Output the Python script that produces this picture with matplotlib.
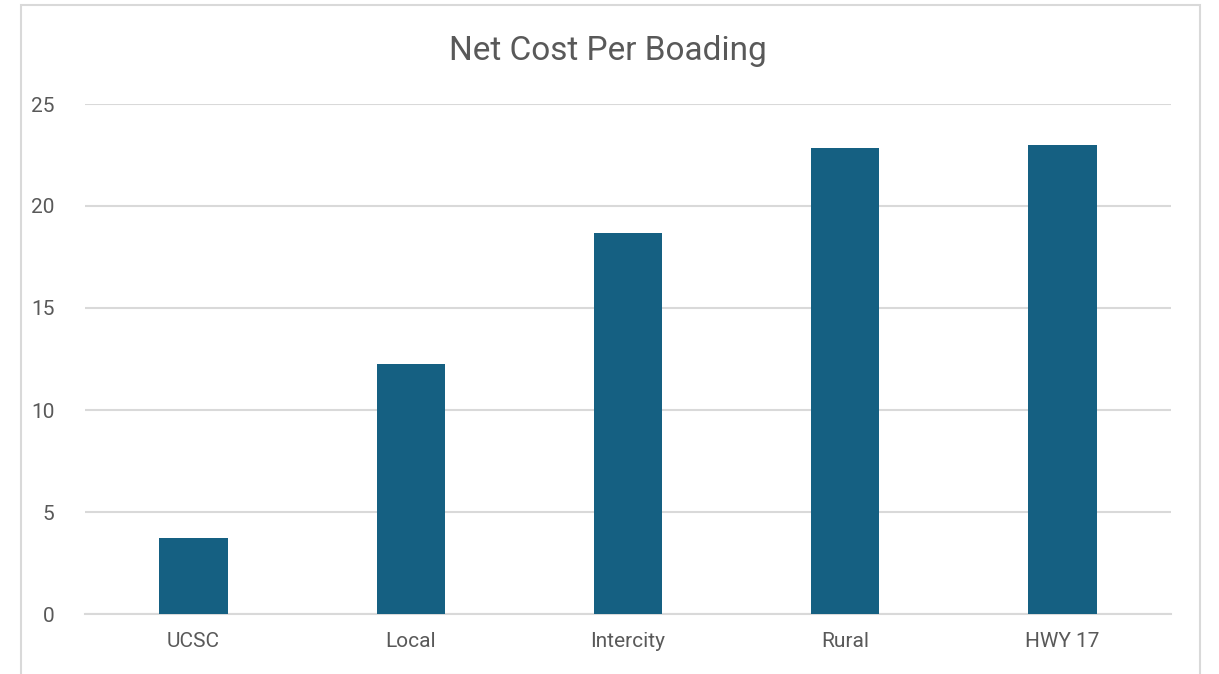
import matplotlib
matplotlib.use("Agg")
import matplotlib.pyplot as plt
from matplotlib.patches import Rectangle

categories = ["UCSC", "Local", "Intercity", "Rural", "HWY 17"]
net_cost = [3.71, 12.25, 18.67, 22.83, 23.0]
y_ticks = [0, 5, 10, 15, 20, 25]

BAR = "#156082"
GRID = "#D9D9D9"
TEXT = "#595959"

plt.rcParams["font.family"] = ["Roboto", "DejaVu Sans"]

W, H = 1219, 674
fig = plt.figure(figsize=(W / 100, H / 100), dpi=100)
fig.patch.set_facecolor("white")

# chart frame (runs off the bottom edge)
fig.add_artist(Rectangle((21 / W, -0.05), (1200 - 21) / W, 1.05 - 5 / H,
                         transform=fig.transFigure, fill=False,
                         edgecolor=GRID, linewidth=1.5))

ax = fig.add_axes([85 / W, 1 - 614 / H, (1171 - 85) / W, (614 - 104) / H])
x = range(len(categories))
ax.bar(x, net_cost, width=0.315, color=BAR, zorder=3)

ax.set_xlim(-0.5, len(categories) - 0.5)
ax.set_ylim(0, 25)
ax.set_yticks(y_ticks)
ax.set_xticks(list(x))
ax.set_xticklabels(categories)
ax.grid(axis="y", color=GRID, linewidth=1.5, zorder=0)
for s in ["top", "right", "left"]:
    ax.spines[s].set_visible(False)
ax.spines["bottom"].set_color(GRID)
ax.spines["bottom"].set_linewidth(1.5)
ax.tick_params(axis="both", length=0, colors=TEXT, labelsize=15)
ax.tick_params(axis="y", pad=22)
ax.tick_params(axis="x", pad=13)
for lbl in ax.get_yticklabels():
    lbl.set_horizontalalignment("right")

fig.text(608 / W, 1 - 51 / H, "Net Cost Per Boading", ha="center", va="center",
         fontsize=24, color=TEXT)

fig.savefig("out.png", dpi=100)
